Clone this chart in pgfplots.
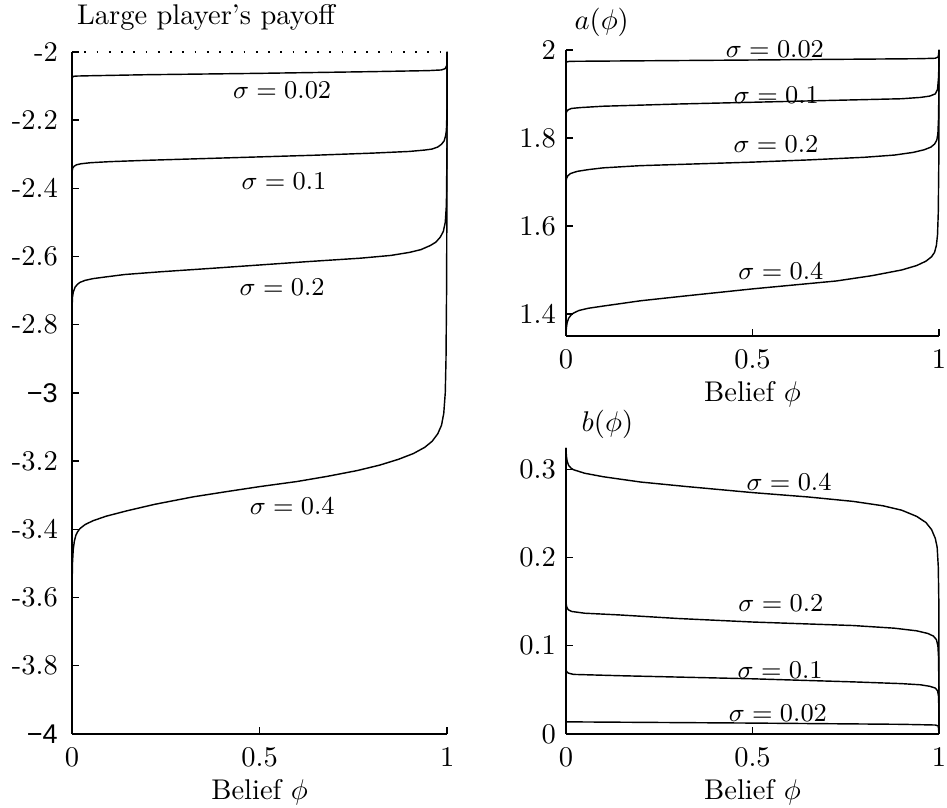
\documentclass[border=0pt]{standalone}
\usepackage{fontspec}
\newfontfamily\arial{Liberation Sans}
\usepackage{pgfplots}
\pgfplotsset{compat=1.18}
\begin{document}
\begin{tikzpicture}
\path[use as bounding box] (-25.3pt,-26pt) rectangle (307pt,257.5pt);
\pgfplotsset{
  every axis/.append style={
    scale only axis, axis lines*=left, tick align=inside,
    major tick length=2.5pt, enlargelimits=false, clip=false,
    xmin=0, xmax=1, xtick={0,0.5,1},
    axis line style={line width=0.6pt, black},
    tick style={line width=0.5pt, black},
    xlabel={Belief $\phi$},
    xlabel style={yshift=2.5pt},
    title style={anchor=base west},
  },
  crv/.style={black, line width=0.5pt, no markers, line join=round},
}
\tikzset{lab/.style={font=\fontsize{8.6pt}{10pt}\selectfont}}
% ---------------- left panel ----------------
\begin{axis}[at={(0pt,0pt)}, anchor=south west, width=131.6pt, height=239.3pt,
  ymin=-4, ymax=-2,
  ytick={-4,-3.8,-3.6,-3.4,-3.2,-3,-2.8,-2.6,-2.4,-2.2,-2},
  yticklabels={{\arial\fontsize{9.5pt}{10pt}\selectfont\symbol{"2212}4},-3.8,-3.6,-3.4,-3.2,{\arial\fontsize{9.5pt}{10pt}\selectfont\symbol{"2212}3},-2.8,-2.6,-2.4,-2.2,-2},
  title={Large player's payoff},
  title style={at={(rel axis cs:0,1)}, yshift=3.5pt, xshift=-1.8pt},
  yticklabel shift=1.5pt, xticklabel shift=1.5pt]
\addplot[black, line width=0.6pt, dash pattern=on 0.6pt off 3.7pt] coordinates {(0,-2) (1,-2)};
\addplot[crv] coordinates {(0,-2.076) (0.003,-2.072) (0.01,-2.071) (0.05,-2.070) (0.2,-2.067) (0.5,-2.063) (0.8,-2.058) (0.95,-2.055) (0.985,-2.053) (0.995,-2.049) (0.999,-2.04) (1,-2)};
\addplot[crv] coordinates {(0,-2.35) (0.002,-2.340) (0.006,-2.335) (0.012,-2.331) (0.025,-2.328) (0.05,-2.325) (0.1,-2.322) (0.2,-2.318) (0.35,-2.313) (0.5,-2.308) (0.65,-2.303) (0.8,-2.297) (0.9,-2.292) (0.94,-2.288) (0.96,-2.285) (0.975,-2.279) (0.985,-2.271) (0.992,-2.261) (0.996,-2.246) (0.998,-2.23) (0.9995,-2.18) (1,-2)};
\addplot[crv] coordinates {(0,-2.75) (0.001,-2.72) (0.003,-2.705) (0.008,-2.69) (0.014,-2.682) (0.021,-2.676) (0.035,-2.67) (0.056,-2.665) (0.09,-2.66) (0.14,-2.653) (0.235,-2.645) (0.37,-2.635) (0.5,-2.625) (0.63,-2.615) (0.77,-2.605) (0.85,-2.597) (0.9,-2.588) (0.93,-2.58) (0.955,-2.568) (0.97,-2.558) (0.982,-2.543) (0.99,-2.526) (0.995,-2.5) (0.998,-2.45) (0.9995,-2.3) (1,-2)};
\addplot[crv] coordinates {(0,-3.56) (0.001,-3.5) (0.003,-3.46) (0.006,-3.435) (0.01,-3.418) (0.015,-3.407) (0.021,-3.398) (0.035,-3.386) (0.056,-3.375) (0.09,-3.362) (0.146,-3.346) (0.22,-3.327) (0.323,-3.305) (0.41,-3.29) (0.5,-3.275) (0.6,-3.26) (0.68,-3.245) (0.76,-3.228) (0.82,-3.212) (0.87,-3.195) (0.91,-3.178) (0.94,-3.16) (0.96,-3.142) (0.975,-3.12) (0.985,-3.095) (0.991,-3.06) (0.995,-3.0) (0.997,-2.9) (0.9985,-2.7) (0.9995,-2.4) (1,-2)};
\node[lab] at (axis cs:0.56,-2.114) {$\sigma=0.02$};
\node[lab] at (axis cs:0.565,-2.378) {$\sigma=0.1$};
\node[lab] at (axis cs:0.56,-2.689) {$\sigma=0.2$};
\node[lab] at (axis cs:0.587,-3.334) {$\sigma=0.4$};
\end{axis}
% ---------------- top right ----------------
\begin{axis}[at={(173.3pt,139.6pt)}, anchor=south west, width=130.9pt, height=100.4pt,
  ymin=1.35, ymax=2, ytick={1.4,1.6,1.8,2},
  title={$a(\phi)$},
  title style={at={(rel axis cs:0,1)}, yshift=1pt, xshift=-0.5pt},
  xticklabel shift=1.5pt]
\addplot[crv] coordinates {(0,1.970) (0.003,1.973) (0.01,1.974) (0.5,1.977) (0.95,1.980) (0.99,1.981) (0.998,1.984) (1,2)};
\addplot[crv] coordinates {(0,1.855) (0.002,1.86) (0.006,1.864) (0.015,1.867) (0.04,1.869) (0.1,1.872) (0.3,1.877) (0.5,1.881) (0.7,1.885) (0.9,1.889) (0.95,1.892) (0.975,1.895) (0.99,1.90) (0.996,1.91) (0.999,1.94) (1,2)};
\addplot[crv] coordinates {(0,1.70) (0.0015,1.708) (0.005,1.714) (0.012,1.719) (0.03,1.724) (0.06,1.728) (0.1,1.732) (0.2,1.737) (0.35,1.741) (0.5,1.745) (0.65,1.75) (0.8,1.756) (0.88,1.761) (0.93,1.767) (0.96,1.773) (0.978,1.779) (0.988,1.786) (0.994,1.795) (0.997,1.81) (0.999,1.85) (1,2)};
\addplot[crv] coordinates {(0,1.35) (0.001,1.368) (0.003,1.38) (0.007,1.39) (0.013,1.397) (0.02,1.402) (0.035,1.408) (0.06,1.413) (0.1,1.418) (0.2,1.430) (0.32,1.441) (0.5,1.457) (0.725,1.475) (0.82,1.487) (0.9,1.500) (0.94,1.51) (0.965,1.52) (0.98,1.53) (0.988,1.54) (0.993,1.556) (0.996,1.58) (0.998,1.63) (0.9995,1.75) (1,2)};
\node[lab] at (axis cs:0.56,2.002) {$\sigma=0.02$};
\node[lab] at (axis cs:0.564,1.897) {$\sigma=0.1$};
\node[lab] at (axis cs:0.563,1.785) {$\sigma=0.2$};
\node[lab] at (axis cs:0.576,1.498) {$\sigma=0.4$};
\end{axis}
% ---------------- bottom right ----------------
\begin{axis}[at={(173.3pt,0pt)}, anchor=south west, width=130.9pt, height=100.4pt,
  ymin=0, ymax=0.325, ytick={0,0.1,0.2,0.3},
  title={$b(\phi)$},
  title style={at={(rel axis cs:0,1)}, yshift=-0.3pt, xshift=2pt},
  xticklabel shift=1.5pt]
\addplot[crv] coordinates {(0,0.325) (0.001,0.316) (0.003,0.310) (0.007,0.305) (0.013,0.302) (0.02,0.300) (0.05,0.296) (0.1,0.292) (0.2,0.286) (0.32,0.281) (0.5,0.274) (0.65,0.269) (0.77,0.264) (0.85,0.259) (0.9,0.254) (0.94,0.247) (0.965,0.24) (0.98,0.232) (0.99,0.222) (0.995,0.212) (0.998,0.19) (0.9995,0.15) (1,0)};
\addplot[crv] coordinates {(0,0.149) (0.002,0.144) (0.006,0.141) (0.015,0.139) (0.05,0.137) (0.145,0.135) (0.3,0.131) (0.5,0.127) (0.77,0.123) (0.88,0.120) (0.94,0.117) (0.97,0.114) (0.985,0.111) (0.993,0.107) (0.997,0.1) (0.999,0.085) (1,0)};
\addplot[crv] coordinates {(0,0.073) (0.002,0.0705) (0.006,0.069) (0.02,0.0675) (0.145,0.066) (0.5,0.0625) (0.77,0.059) (0.9,0.057) (0.95,0.0557) (0.975,0.054) (0.99,0.052) (0.996,0.049) (0.999,0.042) (1,0)};
\addplot[crv] coordinates {(0,0.0136) (0.5,0.0122) (0.9,0.0108) (0.99,0.0100) (0.998,0.009) (1,0)};
\node[lab] at (axis cs:0.598,0.286) {$\sigma=0.4$};
\node[lab] at (axis cs:0.576,0.148) {$\sigma=0.2$};
\node[lab] at (axis cs:0.574,0.0727) {$\sigma=0.1$};
\node[lab] at (axis cs:0.568,0.0239) {$\sigma=0.02$};
\end{axis}
\end{tikzpicture}
\end{document}
